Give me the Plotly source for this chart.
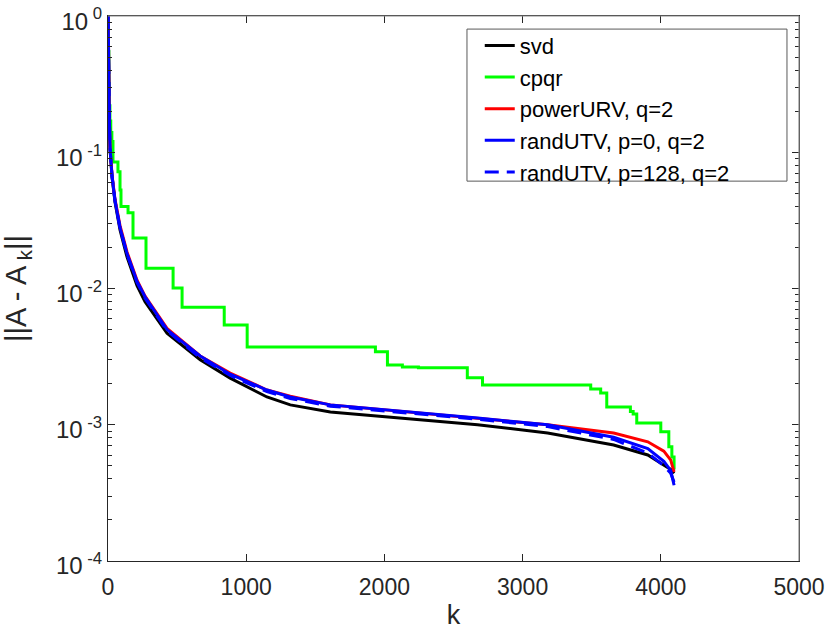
import plotly.graph_objects as go

k = [1, 3, 6, 10, 15, 29, 51, 87, 138, 210, 268, 427, 667, 884, 1150,
     1319, 1609, 2094, 2674, 3181, 3659, 3906, 4022, 4072, 4096]

svd = [1.0, 0.55, 0.3, 0.17, 0.105, 0.066, 0.043, 0.027, 0.017, 0.0105,
       0.008, 0.0047, 0.003, 0.0022, 0.0016, 0.0014, 0.00124, 0.00112,
       0.001, 0.00087, 0.00071, 0.0006, 0.00051, 0.00047, 0.00044]

power_urv = [1.0, 0.56, 0.31, 0.175, 0.108, 0.068, 0.045, 0.029, 0.0185,
             0.0115, 0.0088, 0.0051, 0.0032, 0.0024, 0.0018, 0.00162,
             0.0014, 0.00126, 0.00112, 0.001, 0.00087, 0.00075, 0.00064,
             0.00055, 0.00045]

rand_utv_p0 = [1.0, 0.55, 0.3, 0.172, 0.106, 0.067, 0.044, 0.028, 0.018,
               0.0113, 0.0087, 0.005, 0.0032, 0.00235, 0.0018, 0.0016,
               0.0014, 0.00127, 0.00112, 0.001, 0.00081, 0.00067, 0.00054,
               0.00046, 0.00036]

rand_utv_p128 = [1.0, 0.55, 0.3, 0.171, 0.106, 0.067, 0.044, 0.028, 0.0178,
                 0.0111, 0.0085, 0.0049, 0.0031, 0.0023, 0.00175, 0.00156,
                 0.00137, 0.00124, 0.0011, 0.00097, 0.00078, 0.00062,
                 0.0005, 0.00044, 0.00038]

# cpqr is a staircase
k_cpqr = [1, 3, 6, 10, 14, 20, 28, 36, 72, 87, 94, 145, 181, 275, 471, 536,
          841, 1007, 1935, 2022, 2130, 2246, 2600, 2710, 3493, 3565, 3609,
          3780, 3800, 3826, 4000, 4058, 4080, 4096]
cpqr = [1.0, 0.55, 0.32, 0.22, 0.17, 0.14, 0.12, 0.085, 0.072, 0.053, 0.040,
        0.036, 0.0235, 0.0141, 0.0101, 0.0073, 0.0054, 0.00373, 0.00343,
        0.00275, 0.00266, 0.00262, 0.00221, 0.00196, 0.00183, 0.00171,
        0.00135, 0.00125, 0.0012, 0.00103, 0.00089, 0.00069, 0.00058,
        0.00047]

x_ticks = [0, 1000, 2000, 3000, 4000, 5000]
y_ticks = [0.0001, 0.001, 0.01, 0.1, 1.0]
y_labels = ["10<sup> -4</sup>", "10<sup> -3</sup>", "10<sup> -2</sup>",
            "10<sup> -1</sup>", "10<sup> 0</sup>"]

txt = "#262626"
frame = "#8c8c8c"
lw = 3

fig = go.Figure()
fig.add_trace(go.Scatter(x=k, y=svd, mode="lines", name="svd",
                         line=dict(color="black", width=lw)))
fig.add_trace(go.Scatter(x=k_cpqr, y=cpqr, mode="lines", name="cpqr",
                         line=dict(color="#00ff00", width=lw, shape="hv")))
fig.add_trace(go.Scatter(x=k, y=power_urv, mode="lines", name="powerURV, q=2",
                         line=dict(color="#ff0000", width=lw)))
fig.add_trace(go.Scatter(x=k, y=rand_utv_p0, mode="lines",
                         name="randUTV, p=0, q=2",
                         line=dict(color="#0000ff", width=lw)))
fig.add_trace(go.Scatter(x=k, y=rand_utv_p128, mode="lines",
                         name="randUTV, p=128, q=2",
                         line=dict(color="#0000ff", width=lw, dash="14px,8px")))

# legend frame and the lighter top/right box edges
fig.add_shape(type="rect", xref="paper", yref="paper",
              x0=0.5195, x1=0.9826, y0=0.697, y1=0.976,
              line=dict(color="#5a5a5a", width=1), fillcolor="white",
              layer="above")
fig.add_shape(type="line", xref="paper", yref="paper", x0=0, x1=1, y0=1, y1=1,
              line=dict(color=frame, width=1.2), layer="above")
fig.add_shape(type="line", xref="paper", yref="paper", x0=1, x1=1, y0=0, y1=1,
              line=dict(color=frame, width=1.2), layer="above")

fig.update_layout(
    width=830, height=630,
    margin=dict(l=108, r=31, t=16, b=69),
    paper_bgcolor="white", plot_bgcolor="white",
    font=dict(family="Liberation Sans, Arial, sans-serif", size=24, color=txt),
    showlegend=True,
    legend=dict(x=0.538, y=0.984, xanchor="left", yanchor="top",
                bgcolor="rgba(0,0,0,0)", borderwidth=0,
                font=dict(size=22, color="black"), tracegroupgap=0),
)

fig.update_xaxes(
    range=[0, 5000], tickvals=x_ticks, automargin=False,
    ticks="inside", ticklen=7, tickcolor=txt, showgrid=False, zeroline=False,
    showline=True, linecolor=txt, linewidth=1, mirror="ticks",
    tickfont=dict(size=23), ticklabelstandoff=5,
    title=dict(text="k", font=dict(size=27), standoff=26),
)
fig.update_yaxes(
    type="log", range=[-4, 0.001], tickvals=y_ticks, ticktext=y_labels,
    automargin=False, ticklabeloverflow="allow", ticklabelshift=5,
    ticks="inside", ticklen=7, tickcolor=txt, showgrid=False, zeroline=False,
    showline=True, linecolor=txt, linewidth=1, mirror="ticks",
    minor=dict(ticks="inside", ticklen=4, tickcolor=txt, dtick="D1",
               showgrid=False),
    title=dict(text="||A - A<sub> k</sub>||", font=dict(size=29), standoff=39),
)

# drop the page's default 8px body margin so the figure fills the window
fig.write_html("out.html", config={"displayModeBar": False},
               post_script="document.body.style.margin = '0px';")
